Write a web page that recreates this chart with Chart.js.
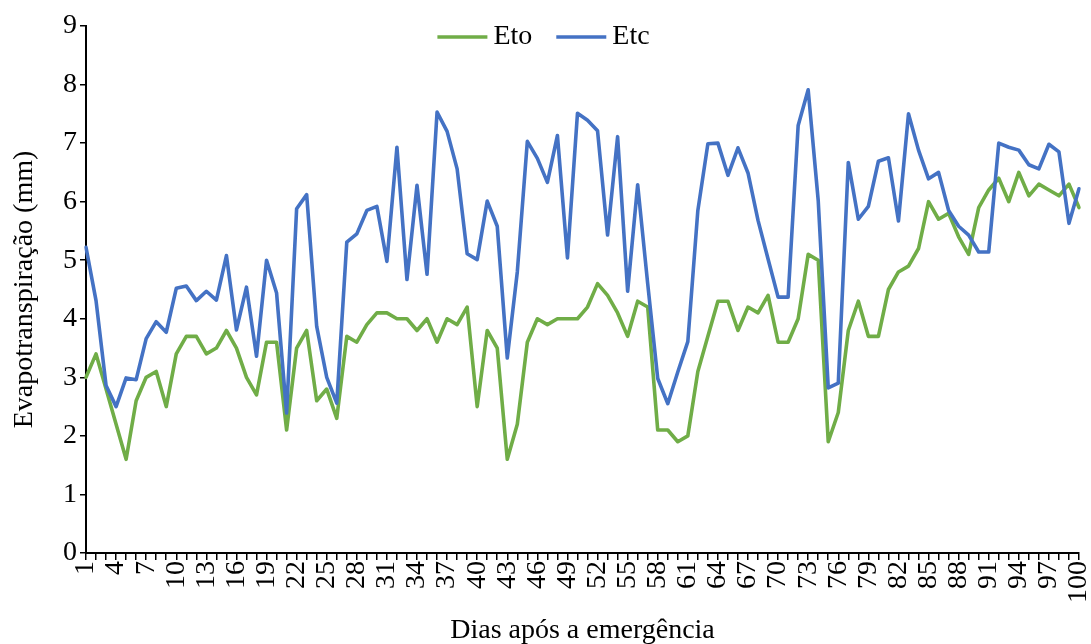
<!DOCTYPE html>
<html>
<head>
<meta charset="utf-8">
<script src="https://cdn.jsdelivr.net/npm/chart.js@4.4.0/dist/chart.umd.min.js"></script>
<style>
  html, body { margin: 0; padding: 0; background: #fff; }
</style>
</head>
<body>
<canvas id="myChart" width="1091" height="644"></canvas>
<script>
const days = [
  1, 2, 3, 4, 5, 6, 7, 8, 9, 10, 11, 12, 13, 14, 15, 16, 17, 18, 19, 20,
  21, 22, 23, 24, 25, 26, 27, 28, 29, 30, 31, 32, 33, 34, 35, 36, 37, 38, 39, 40,
  41, 42, 43, 44, 45, 46, 47, 48, 49, 50, 51, 52, 53, 54, 55, 56, 57, 58, 59, 60,
  61, 62, 63, 64, 65, 66, 67, 68, 69, 70, 71, 72, 73, 74, 75, 76, 77, 78, 79, 80,
  81, 82, 83, 84, 85, 86, 87, 88, 89, 90, 91, 92, 93, 94, 95, 96, 97, 98, 99, 100
];
const tickDays = [1, 4, 7, 10, 13, 16, 19, 22, 25, 28, 31, 34, 37, 40, 43, 46, 49,
  52, 55, 58, 61, 64, 67, 70, 73, 76, 79, 82, 85, 88, 91, 94, 97, 100];

const eto = [
  3.0, 3.4, 2.8, 2.2, 1.6, 2.6, 3.0, 3.1, 2.5, 3.4,
  3.7, 3.7, 3.4, 3.5, 3.8, 3.5, 3.0, 2.7, 3.6, 3.6,
  2.1, 3.5, 3.8, 2.6, 2.8, 2.3, 3.7, 3.6, 3.9, 4.1,
  4.1, 4.0, 4.0, 3.8, 4.0, 3.6, 4.0, 3.9, 4.2, 2.5,
  3.8, 3.5, 1.6, 2.2, 3.6, 4.0, 3.9, 4.0, 4.0, 4.0,
  4.2, 4.6, 4.4, 4.1, 3.7, 4.3, 4.2, 2.1, 2.1, 1.9,
  2.0, 3.1, 3.7, 4.3, 4.3, 3.8, 4.2, 4.1, 4.4, 3.6,
  3.6, 4.0, 5.1, 5.0, 1.9, 2.4, 3.8, 4.3, 3.7, 3.7,
  4.5, 4.8, 4.9, 5.2, 6.0, 5.7, 5.8, 5.4, 5.1, 5.9,
  6.2, 6.4, 6.0, 6.5, 6.1, 6.3, 6.2, 6.1, 6.3, 5.9
];
const etc = [
  5.22, 4.31, 2.86, 2.50, 2.99, 2.96, 3.66, 3.95, 3.77, 4.52,
  4.56, 4.31, 4.47, 4.32, 5.08, 3.81, 4.54, 3.36, 5.00, 4.44,
  2.39, 5.88, 6.12, 3.87, 3.00, 2.56, 5.31, 5.45, 5.85, 5.92,
  4.98, 6.93, 4.67, 6.28, 4.76, 7.53, 7.20, 6.56, 5.11, 5.01,
  6.01, 5.58, 3.33, 4.80, 7.03, 6.74, 6.33, 7.13, 5.04, 7.51,
  7.39, 7.21, 5.43, 7.11, 4.47, 6.29, 4.60, 2.98, 2.55, 3.09,
  3.61, 5.85, 6.99, 7.00, 6.45, 6.92, 6.49, 5.68, 5.02, 4.37,
  4.37, 7.30, 7.91, 6.02, 2.82, 2.90, 6.67, 5.70, 5.92, 6.69,
  6.75, 5.67, 7.50, 6.88, 6.39, 6.50, 5.85, 5.58, 5.43, 5.14,
  5.14, 7.00, 6.93, 6.88, 6.63, 6.56, 6.98, 6.85, 5.63, 6.22
];

const serif = "'Liberation Serif', 'Times New Roman', serif";
const tickSize = 28;
const titleSize = 28;
const legendSize = 28;

// legend drawn as a short line + name, sitting over the top of the plot
const lineLegend = {
  id: 'lineLegend',
  afterDraw(chart) {
    const { ctx, chartArea } = chart;
    const sample = 50, gap = 6, spacing = 24;
    ctx.save();
    ctx.font = legendSize + 'px ' + serif;
    const items = chart.data.datasets.map(ds => ({ ds, w: ctx.measureText(ds.label).width }));
    const total = items.reduce((s, it) => s + sample + gap + it.w, 0) + spacing * (items.length - 1);
    let x = chart.width / 2 - 2 - total / 2;
    const y = chartArea.top + 11;
    ctx.textBaseline = 'middle';
    ctx.textAlign = 'left';
    items.forEach(it => {
      ctx.strokeStyle = it.ds.borderColor;
      ctx.lineWidth = it.ds.borderWidth;
      ctx.beginPath();
      ctx.moveTo(x, y);
      ctx.lineTo(x + sample, y);
      ctx.stroke();
      x += sample + gap;
      ctx.fillStyle = '#000';
      ctx.fillText(it.ds.label, x, y);
      x += it.w + spacing;
    });
    ctx.restore();
  }
};

const data = {
  labels: days,
  datasets: [{
    label: 'Eto',
    data: eto,
    borderColor: '#70AD47',
    backgroundColor: '#70AD47',
    borderWidth: 3.6,
    pointRadius: 0,
    tension: 0,
    order: 1,
    borderJoinStyle: 'round',
    borderCapStyle: 'round'
  }, {
    label: 'Etc',
    data: etc,
    borderColor: '#4472C4',
    backgroundColor: '#4472C4',
    borderWidth: 3.6,
    pointRadius: 0,
    tension: 0,
    order: 0,
    borderJoinStyle: 'round',
    borderCapStyle: 'round'
  }]
};

const config = {
  type: 'line',
  data: data,
  plugins: [lineLegend],
  options: {
    responsive: false,
    animation: false,
    layout: { padding: { top: 26, right: 12, left: 0, bottom: 0 } },
    plugins: {
      legend: { display: false },
      tooltip: { enabled: false }
    },
    scales: {
      x: {
        type: 'category',
        offset: false,
        afterFit: scale => {
          scale.height = 91;
          scale.paddingLeft = 0;
          scale.paddingRight = 0;
        },
        border: { color: '#000', width: 2 },
        grid: { display: true, drawOnChartArea: false, color: '#000', lineWidth: 1.5, tickLength: 7 },
        ticks: {
          autoSkip: false,
          minRotation: 90,
          maxRotation: 90,
          padding: 1,
          color: '#000',
          font: { family: serif, size: tickSize },
          callback: (value, index) => tickDays.includes(days[index]) ? String(days[index]) : ''
        },
        title: {
          display: true,
          text: 'Dias após a emergência',
          color: '#000',
          font: { family: serif, size: titleSize },
          padding: { top: 0, bottom: -3 }
        }
      },
      y: {
        min: 0,
        max: 9,
        afterFit: scale => { scale.width = 86; },
        border: { color: '#000', width: 2 },
        grid: { display: true, drawOnChartArea: false, color: '#000', lineWidth: 1.5, tickLength: 6 },
        ticks: {
          stepSize: 1,
          padding: 3,
          color: '#000',
          font: { family: serif, size: tickSize }
        },
        title: {
          display: true,
          text: 'Evapotranspiração (mm)',
          color: '#000',
          font: { family: serif, size: titleSize },
          padding: { top: 8, bottom: 0 }
        }
      }
    }
  }
};

const myChart = new Chart(document.getElementById('myChart'), config);
</script>
</body>
</html>
